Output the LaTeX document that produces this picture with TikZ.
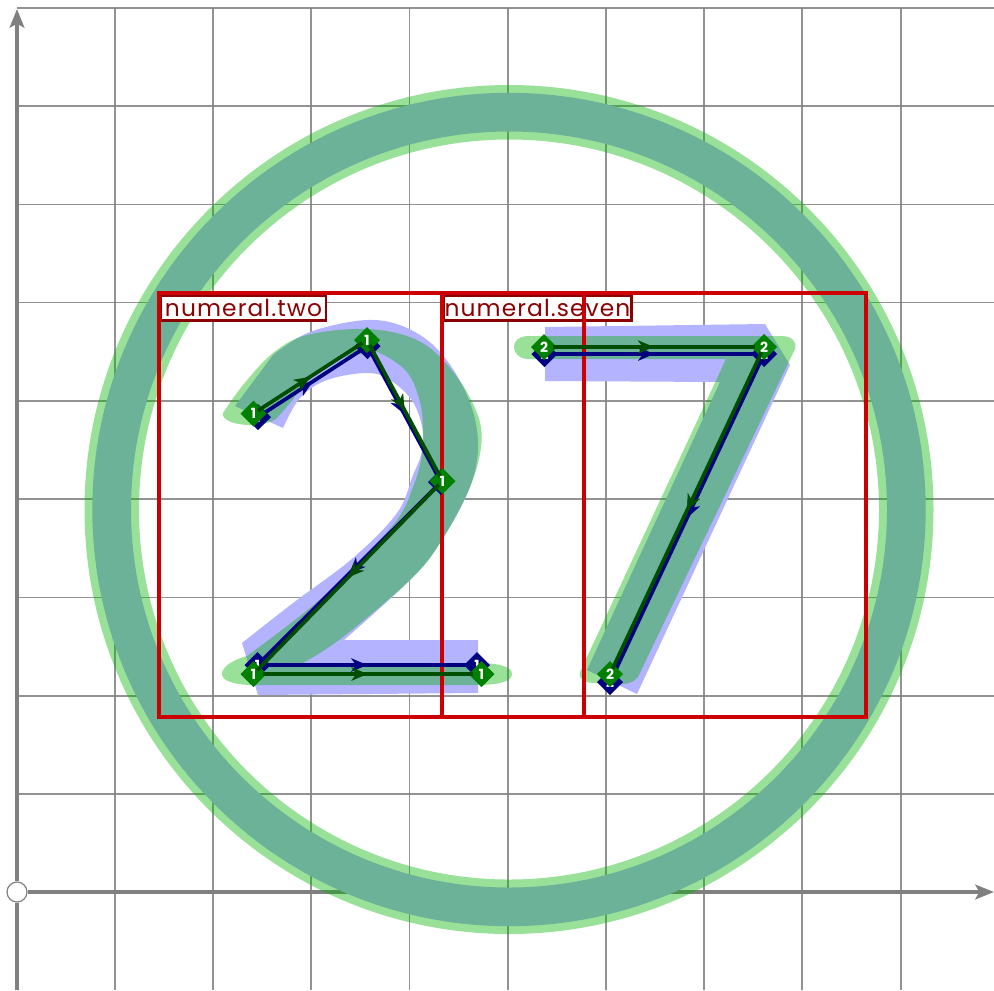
\documentclass[tikz,border=0pt]{standalone}
\usepackage{fontspec}
\newfontfamily\glyphfont{Poppins}
\newfontfamily\tagfont[LetterSpace=4.7]{Poppins}
\usetikzlibrary{shapes.geometric,decorations.markings,arrows.meta}
\definecolor{blueglyph}{RGB}{179,179,255}
\definecolor{greenglyph}{RGB}{0,178,0}
\definecolor{gridgray}{RGB}{128,128,128}
\definecolor{boxred}{RGB}{204,0,0}
\definecolor{labelred}{RGB}{139,0,0}
\definecolor{navypt}{RGB}{0,0,128}
\definecolor{greenpt}{RGB}{0,128,0}
\definecolor{darkseg}{RGB}{0,77,0}
\tikzset{
    gridline/.style={gridgray, line width=0.95pt, opacity=0.85},
    axisline/.style={gridgray, line width=3pt},
    bluefill/.style={fill=blueglyph, even odd rule},
    greenfill/.style={fill=greenglyph, fill opacity=0.4, even odd rule},
    bbox/.style={boxred, line width=2.7pt},
    glyphlabel/.style={draw=labelred, fill=white, text=labelred, line width=1.9pt, inner sep=0pt, minimum height=18.5pt, font=\tagfont\fontsize{17.5}{18}\selectfont},
    ptbase/.style={diamond, inner sep=0pt, outer sep=0pt, minimum width=19.5pt, minimum height=19.5pt, text=white, font=\glyphfont\bfseries\fontsize{10.5}{10.5}\selectfont},
    ptnavy/.style={ptbase, fill=navypt},
    ptgreen/.style={ptbase, fill=greenpt},
    midtip/.style={postaction={decorate}, decoration={markings, mark=at position 0.5 with {\arrow{Stealth[length=12pt,width=10pt,inset=3.5pt]}}}},
    segnavy/.style={navypt, line width=2.8pt, shorten <=-3pt, shorten >=-3pt, midtip},
    seggreen/.style={darkseg, line width=2.8pt, shorten <=-3pt, shorten >=-3pt, midtip},
}
\begin{document}
\begin{tikzpicture}[x=0.75pt, y=-0.75pt]
    \useasboundingbox (0,0) rectangle (994,990);
    % Grid
    \foreach \x in {115,213,311,409.5,508,606,704,802,901} {
            \draw[gridline] (\x,8) -- (\x,990);
        }
    \foreach \y in {8,106,204.5,302.5,401,499,597.5,696,794} {
            \draw[gridline] (17,\y) -- (994,\y);
        }
    % Axes
    \node[circle, draw=gridgray, fill=white, line width=0.9pt, minimum size=15pt, inner sep=0pt] (orig) at (17,892) {};
    \coordinate (ytop) at (17,9);
    \coordinate (ybot) at (17,990);
    \coordinate (xtip) at (994,892);
    \draw[axisline, -{Stealth[length=14pt,width=11pt,inset=3pt]}] (orig) -- (ytop);
    \draw[axisline] (orig) -- (ybot);
    \draw[axisline, -{Stealth[length=14pt,width=11pt,inset=3pt]}] (orig) -- (xtip);
    % Blue outlines
    \fill[bluefill] (509,509.5) circle[radius=416.7] (509,509.5) circle[radius=378];
    \fill[bluefill] (258,695) -- (478,693) -- (478,640) -- (344,640)
        -- plot[smooth, tension=0.6] coordinates {(344,640) (410,580) (440,543) (470,487) (478,441) (467,395) (440,352) (407,328) (367,320) (310,332) (273,355)}
        -- (235,406) -- (283,428)
        -- plot[smooth, tension=0.6] coordinates {(283,428) (300,398) (327,380) (367,373) (390,380) (413,402) (423,432) (421,455) (413,475) (397,513) (353,558) (293,603) (242,643)}
        -- cycle;
    \fill[bluefill] (545,327) -- (765,324) -- (790,365) -- (637,694) -- (587,670) -- (720,382) -- (545,381) -- cycle;
    % Green outlines
    \fill[greenfill] (509,509.5) circle[radius=424.5] (509,509.5) circle[radius=370];
    \fill[greenfill] (253,685) -- (477,685)
        .. controls (500,685) and (512,681) .. (512,674)
        .. controls (512,667) and (500,663) .. (477,663)
        -- (303,663)
        -- plot[smooth, tension=0.6] coordinates {(303,663) (343,637) (410,580) (440,543) (470,487) (481.5,442) (475,408) (450,368) (417,340) (367,329) (307,335) (273,353) (243,385) (223,413)}
        .. controls (221,420) and (235,425) .. (250,425)
        .. controls (262,425) and (270,423) .. (277,418)
        -- plot[smooth, tension=0.6] coordinates {(277,418) (290,403) (307,382) (337,360) (367,353) (380,353) (407,372) (420,402) (423,432) (421,460) (413,487) (397,520) (353,568) (310,608) (247,656)}
        .. controls (232,660) and (222,667) .. (222,674)
        .. controls (222,681) and (235,685) .. (253,685) -- cycle;
    \fill[greenfill] (527,336) -- (783,336)
        .. controls (792,337) and (797,341) .. (795,349)
        -- (638,677)
        .. controls (634,682) and (628,684) .. (623,684)
        -- (592,683)
        .. controls (582,682) and (578,677) .. (580,672)
        -- (726,359) -- (527,359)
        .. controls (518,358) and (514,352) .. (514,347)
        .. controls (514,341) and (518,337) .. (527,336) -- cycle;
    % Labels
    \node[glyphlabel, minimum width=124pt] (lbltwo) at (243.5,308) {numeral.two};
    \node[glyphlabel, minimum width=141pt] (lblseven) at (537.5,308) {numeral.seven};
    % Bounding boxes
    \draw[bbox] (159,293) rectangle (584,717);
    \draw[bbox] (442,293) rectangle (866,717);
    % Navy points
    \node[ptnavy] (na) at (258,417) {1};
    \node[ptnavy] (nb) at (367.5,346) {1};
    \node[ptnavy] (nc) at (441,482) {1};
    \node[ptnavy] (nd) at (257.5,665) {1};
    \node[ptnavy] (ne) at (477,665) {1};
    \node[ptnavy] (nf) at (544.5,354) {2};
    \node[ptnavy] (ng) at (764,354) {2};
    \node[ptnavy] (nh) at (610,682) {2};
    \foreach \a/\b in {na/nb, nb/nc, nc/nd, nd/ne, nf/ng, ng/nh} {
            \draw[segnavy] (\a) -- (\b);
        }
    % Green points
    \node[ptgreen] (ga) at (253.5,413.5) {1};
    \node[ptgreen] (gb) at (367,340) {1};
    \node[ptgreen] (gc) at (442.5,481) {1};
    \node[ptgreen] (gd) at (253.5,674) {1};
    \node[ptgreen] (ge) at (481.5,674) {1};
    \node[ptgreen] (gf) at (544,347) {2};
    \node[ptgreen] (gg) at (764,347) {2};
    \node[ptgreen] (gh) at (610,674) {2};
    \foreach \a/\b in {ga/gb, gb/gc, gc/gd, gd/ge, gf/gg, gg/gh} {
            \draw[seggreen] (\a) -- (\b);
        }
\end{tikzpicture}
\end{document}
